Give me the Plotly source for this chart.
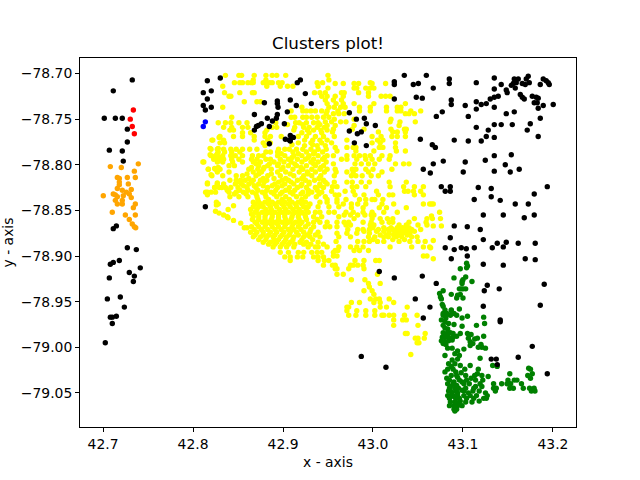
import plotly.graph_objects as go

red_x = [42.7337, 42.7303, 42.7325, 42.7348]
red_y = [-78.740, -78.750, -78.758, -78.766]
blue_x = [42.8137, 42.8114]
blue_y = [-78.753, -78.758]

orange_pts = [
(42.7392,-78.799),(42.7081,-78.802),(42.7203,-78.803),(42.7348,-78.807),(42.7159,-78.814),(42.7181,-78.815),
(42.727,-78.814),(42.7359,-78.814),(42.7181,-78.819),(42.7281,-78.821),(42.7181,-78.822),(42.7159,-78.826),
(42.7214,-78.828),(42.7314,-78.827),(42.7259,-78.830),(42.7003,-78.834),(42.7114,-78.832),(42.7137,-78.833),
(42.7225,-78.834),(42.7159,-78.835),(42.7292,-78.832),(42.7314,-78.836),(42.7137,-78.839),(42.7214,-78.839),
(42.7159,-78.843),(42.7214,-78.843),(42.7359,-78.843),(42.7337,-78.847),(42.7103,-78.852),(42.7248,-78.855),
(42.7359,-78.855),(42.7292,-78.860),(42.7325,-78.865),(42.7348,-78.868),(42.7363,-78.869),
]

black_pts = [
(42.7325,-78.707),(42.7114,-78.719),(42.7014,-78.749),(42.7137,-78.749),(42.7214,-78.749),(42.727,-78.761),
(42.727,-78.775),(42.707,-78.784),(42.7214,-78.785),(42.7225,-78.796),(42.8159,-78.708),(42.8303,-78.705),
(42.8114,-78.721),(42.8203,-78.719),(42.8159,-78.728),(42.8114,-78.735),(42.8137,-78.740),(42.8203,-78.737),
(42.8137,-78.846),(42.7148,-78.867),(42.7114,-78.870),(42.727,-78.891),(42.737,-78.893),(42.7181,-78.905),
(42.7114,-78.907),(42.7081,-78.909),(42.7414,-78.913),(42.7292,-78.918),(42.7348,-78.922),(42.707,-78.924),
(42.7337,-78.928),(42.7048,-78.947),(42.7192,-78.945),(42.7237,-78.956),(42.7148,-78.966),(42.7081,-78.967),
(42.7103,-78.967),(42.7103,-78.974),(42.7025,-78.995),
(42.9159,-78.710),(42.9193,-78.707),(42.9248,-78.722),(42.9081,-78.729),(42.8793,-78.732),(42.8937,-78.730),
(42.8937,-78.733),(42.8945,-78.737),(42.9148,-78.735),(42.9315,-78.733),(42.9048,-78.742),(42.8682,-78.745),
(42.8937,-78.745),(42.8926,-78.749),(42.8826,-78.749),(42.8882,-78.752),(42.9015,-78.755),(42.876,-78.755),
(42.8726,-78.757),(42.8704,-78.758),(42.8848,-78.758),(42.8682,-78.762),(42.9081,-78.768),(42.9026,-78.772),
(42.9070,-78.773),(42.9115,-78.770),(42.9081,-78.774),(42.8848,-78.777),
(43.0348,-78.702),(43.0593,-78.702),(43.0237,-78.709),(43.0237,-78.712),(43.0448,-78.712),(43.0504,-78.711),
(43.067,-78.716),(43.0848,-78.706),(43.0848,-78.711),(43.0481,-78.726),(43.0548,-78.727),(43.0237,-78.728),
(42.9737,-78.743),(42.9815,-78.750),(42.9904,-78.749),(42.9926,-78.755),(43.0026,-78.757),(43.077,-78.742),
(43.0704,-78.747),(42.9737,-78.763),(42.9870,-78.764),(42.9826,-78.766),(42.9793,-78.776),(42.9926,-78.779),
(43.0526,-78.772),(43.0659,-78.778),(43.0693,-78.781),(43.0781,-78.796),(43.067,-78.799),(43.0559,-78.805),
(43.0637,-78.809),(43.0759,-78.824),(43.0859,-78.824),(43.0803,-78.829),(43.0859,-78.829),
(43.1148,-78.710),(43.1348,-78.705),(43.1348,-78.717),(43.1425,-78.712),(43.157,-78.706),(43.1614,-78.706),
(43.1725,-78.703),(43.1703,-78.706),(43.1537,-78.713),(43.1559,-78.711),(43.1592,-78.710),(43.1581,-78.716),
(43.1659,-78.711),(43.1692,-78.712),(43.1737,-78.710),(43.1481,-78.718),(43.1492,-78.721),(43.1859,-78.712),
(43.1892,-78.706),(43.1925,-78.708),(43.1948,-78.710),(43.1959,-78.712),(43.087,-78.729),(43.087,-78.734),
(43.1025,-78.735),(43.1148,-78.731),(43.1148,-78.739),(43.1203,-78.734),(43.1259,-78.733),(43.1303,-78.728),
(43.1348,-78.726),(43.1392,-78.725),(43.1348,-78.737),(43.1637,-78.723),(43.1659,-78.726),(43.1681,-78.728),
(43.177,-78.725),(43.1814,-78.726),(43.1836,-78.727),(43.1792,-78.732),(43.1825,-78.732),(43.1836,-78.738),
(43.1892,-78.735),(43.2003,-78.734),(43.1481,-78.744),(43.157,-78.742),(43.1059,-78.747),(43.1859,-78.749),
(43.1348,-78.756),(43.1425,-78.756),(43.1548,-78.756),(43.1748,-78.755),(43.1148,-78.759),(43.1281,-78.762),
(43.1714,-78.762),(43.0903,-78.773),(43.1059,-78.774),(43.1203,-78.774),(43.1259,-78.769),(43.1348,-78.770),
(43.1836,-78.769),(43.1025,-78.797),(43.1248,-78.795),(43.1348,-78.790),(43.1537,-78.789),(43.1470,-78.800),
(43.1003,-78.808),(43.1348,-78.807),(43.1525,-78.808),(43.1625,-78.805),(43.117,-78.825),(43.1314,-78.826),
(43.1937,-78.824),(43.1792,-78.832),(43.1314,-78.835),(43.1125,-78.838),(43.1414,-78.839),
(43.1581,-78.843),(43.1726,-78.843),(43.1226,-78.855),(43.1448,-78.855),(43.1681,-78.858),(43.1792,-78.855),
(43.0903,-78.867),(43.1048,-78.868),(43.1192,-78.871),(43.0859,-78.880),(43.1226,-78.882),(43.1481,-78.885),
(43.1381,-78.886),(43.1448,-78.890),(43.1326,-78.891),(43.1614,-78.886),(43.1803,-78.886),(43.0803,-78.891),
(43.0903,-78.893),(43.0981,-78.891),(43.1037,-78.892),(43.1126,-78.891),(43.087,-78.903),(43.1048,-78.900),
(43.1692,-78.903),(43.1803,-78.904),(43.1226,-78.909),(43.1448,-78.910),(43.0703,-78.930),(43.127,-78.932),
(43.1237,-78.938),(43.1403,-78.936),(43.1903,-78.931),(43.1226,-78.955),(43.1859,-78.954),(43.0633,-78.956),
(43.1414,-78.970),(43.1414,-78.972),(43.177,-78.999),(43.1614,-79.011),(43.1314,-79.013),(43.137,-79.013),
(43.1381,-79.019),(43.1937,-79.029),(43.007,-78.917),(43.0237,-78.924),(43.0548,-78.922),(43.0470,-78.947),
(43.0559,-78.968),(42.987,-79.010),(43.0144,-79.022),
]

yellow_left = [
(42.828,-78.754),(42.829,-78.770),(42.821,-78.773),(42.830,-78.776),(42.819,-78.782),(42.828,-78.782),
(42.819,-78.789),(42.827,-78.788),(42.823,-78.792),(42.829,-78.792),(42.828,-78.796),(42.811,-78.797),
(42.817,-78.805),(42.824,-78.804),(42.828,-78.803),(42.820,-78.811),(42.816,-78.820),(42.827,-78.820),
(42.824,-78.825),(42.829,-78.825),(42.814,-78.830),(42.820,-78.830),(42.816,-78.833),(42.826,-78.844),
(42.828,-78.843),(42.825,-78.851),(42.829,-78.853),(42.834,-78.855),(42.838,-78.857),(42.826,-78.841),
(42.845,-78.845),(42.839,-78.849),(42.839,-78.858),(42.845,-78.861),(42.853,-78.864),(42.857,-78.869),
(42.860,-78.869),(42.867,-78.879),(43.065,-78.843),(43.067,-78.843),(43.074,-78.852),(43.065,-78.856),
(43.075,-78.859),(43.067,-78.867),(43.076,-78.867),(43.067,-78.883),(43.064,-78.891),(43.067,-78.903),
]

yellow_rows = [
(-78.702,[42.836,42.851,42.854,42.868,42.881,42.888,42.893,42.903,42.950]),
(-78.707,[42.867,42.881,42.951]),
(-78.710,[42.846,42.852,42.855,42.861,42.865,42.867,42.878,42.881,42.885,42.888,42.895,42.899,42.938,42.944,42.997]),
(-78.711,[42.958,42.967,42.979,42.984,42.999,43.014]),
(-78.714,[42.833,42.882,42.897,42.905,42.911,42.939]),
(-78.716,[42.950,42.979,42.982,42.992,42.997,43.001]),
(-78.721,[42.835,42.852,42.866,42.868,42.935,42.941,42.947,42.965,42.968,42.984,42.995]),
(-78.725,[42.840,42.842,42.943,42.949,42.958,42.967,42.995,43.009,43.014,43.019]),
(-78.729,[42.947,42.956,42.965]),
(-78.731,[42.857,42.871,42.875]),
(-78.733,[42.949,42.959,42.967,42.979,43.001,43.036]),
(-78.737,[42.833,42.921,42.951,42.957,42.964,42.969,42.985,42.997,43.015,43.027,43.031]),
(-78.741,[42.909,42.922,42.926,42.931,42.936,42.943,42.949,42.961,42.985,42.997,43.015,43.027,43.031,43.042,43.053]),
(-78.744,[42.948,42.956,42.962,42.968,43.036,43.040,43.046]),
(-78.748,[42.843,42.909,42.913,42.922,42.926,42.932,42.938,42.945,42.951]),
(-78.750,[42.957,42.979,43.020]),
(-78.753,[42.947,42.954,42.964,42.970,43.019,43.030,43.047]),
(-78.754,[42.836,42.842,42.851,42.860,42.892,42.914,42.918,42.926,42.934,42.939]),
(-78.757,[42.949,42.958,42.979,43.029]),
(-78.759,[42.834,42.843,42.855,42.861,42.888,42.893,42.913,42.923,42.929,42.938,42.946]),
(-78.761,[42.956,42.977,42.990,43.020,43.035,43.037]),
(-78.762,[42.841,42.845,42.882,42.912,42.927,42.934,42.942,42.949]),
(-78.764,[42.955,43.006,43.022,43.027,43.036]),
(-78.765,[42.855,42.864,42.880,42.921,42.929,42.943]),
(-78.769,[42.830,42.845,42.855,42.868,42.880,42.886,42.898,42.917,42.926,42.936,42.945,42.957,42.999,43.009,43.021,43.027,43.036]),
(-78.773,[42.822,42.834,42.868,42.883,42.924,42.933,42.941,42.949,42.971,43.005,43.011]),
(-78.776,[42.835,42.878,42.886,42.917,42.931,42.943,42.954,42.999,43.008,43.025]),
(-78.779,[42.880,42.924,42.938,42.947]),
(-78.781,[42.958,42.971,42.978,42.981,43.007,43.011,43.025]),
(-78.783,[42.820,42.827,42.834,42.842,42.848,42.855,42.863,42.871,42.895,42.902,42.907,42.915,42.922,42.931,42.939,42.948]),
(-78.785,[42.960,42.981,43.001,43.026,43.036]),
(-78.786,[42.828,42.835,42.843,42.852,42.881,42.886,42.894,42.911,42.926,42.935,42.944]),
(-78.790,[42.820,42.825,42.833,42.842,42.847,42.855,42.866,42.873,42.878,42.894,42.902,42.912,42.921,42.929,42.939,42.949,42.956,42.971,42.979,42.985,42.991,42.997,43.010,43.019]),
(-78.794,[42.823,42.828,42.834,42.843,42.851,42.865,42.871,42.881,42.886,42.897,42.906,42.916,42.925,42.934,42.944,42.965,42.971,42.982,42.992,42.999,43.007,43.018]),
(-78.797,[42.812,42.827,42.833,42.844,42.855,42.867,42.875,42.890,42.901,42.909,42.921,42.931,42.939,42.948]),
(-78.799,[42.956,42.980,42.987,42.995,43.002,43.025,43.034,43.040]),
(-78.801,[42.840,42.846,42.873,42.883,42.894,42.906,42.915,42.926,42.936,42.945]),
(-78.805,[42.817,42.825,42.830,42.862,42.872,42.878,42.887,42.898,42.911,42.922,42.932,42.941,42.949,42.958,42.977,42.981,42.992,43.000,43.021]),
(-78.808,[42.827,42.840,42.867,42.876,42.894,42.903,42.918,42.927,42.936,42.946,42.959,42.971,42.978,42.995,43.010]),
(-78.812,[42.821,42.833,42.848,42.855,42.870,42.883,42.897,42.912,42.923,42.932,42.942,42.957,42.976,42.981,42.988,42.998,43.006]),
(-78.817,[42.841,42.848,42.853,42.858,42.867,42.875,42.882,42.899,42.906,42.916,42.925,42.935,42.945]),
(-78.819,[42.957,42.971,42.977,42.987,42.996,43.018,43.037]),
(-78.821,[42.816,42.827,42.834,42.847,42.854,42.862,42.873,42.891,42.902,42.912,42.921,42.929,42.941,42.949]),
(-78.824,[42.955,42.960,42.977,42.982,42.992,43.019,43.034,43.046,43.056]),
(-78.825,[42.824,42.832,42.836,42.842,42.850,42.860,42.870,42.883,42.894,42.907,42.916,42.926,42.936,42.945]),
(-78.829,[42.954,42.969,42.978,43.004,43.035,43.039,43.045,43.053]),
(-78.830,[42.816,42.825,42.840,42.848,42.856,42.866,42.877,42.887,42.899,42.908,42.922,42.932,42.943]),
(-78.833,[42.958,42.962,42.980,42.990,43.006,43.018,43.022,43.046,43.056]),
(-78.835,[42.841,42.851,42.861,42.871,42.881,42.893,42.903,42.915,42.925,42.937,42.947]),
(-78.838,[42.949,42.960,42.970,42.985,42.992,43.011,42.999,43.002]),
(-78.841,[42.867,42.873,42.880,42.888,42.895,42.902,42.910,42.917,42.925,42.941,42.949,42.960]),
(-78.843,[42.967,42.976,42.983,42.992,43.010,43.023,43.056,43.063]),
(-78.846,[42.867,42.873,42.878,42.886,42.893,42.901,42.908,42.915,42.923,42.928,42.939,42.951,42.962]),
(-78.847,[42.976,42.989,43.007,43.015,43.037]),
(-78.852,[42.869,42.877,42.884,42.891,42.899,42.906,42.914,42.921,42.928,42.936,42.941,42.951,42.957,42.970,42.978,42.989,42.999,43.012,43.027]),
(-78.855,[42.968,42.975,42.983,42.991,42.998,43.001]),
(-78.857,[42.867,42.873,42.880,42.888,42.895,42.902,42.910,42.917,42.925,42.934,42.943,42.962]),
(-78.859,[42.979,42.999,43.008,43.016,43.022,43.046,43.060,43.066]),
(-78.863,[42.869,42.877,42.884,42.891,42.899,42.906,42.914,42.921,42.934,42.941,42.949,42.960,42.968,42.973,42.989,42.998,43.010,43.018,43.022,43.040,43.059]),
(-78.866,[42.970,42.975,42.997,43.001,43.029,43.037,43.050,43.060]),
(-78.868,[42.865,42.873,42.880,42.888,42.895,42.902,42.910,42.917,42.925,42.934,42.947,42.952,42.960]),
(-78.871,[42.972,42.983,42.989,42.996,43.006,43.017,43.022,43.029,43.036,43.043,43.053]),
(-78.874,[42.864,42.871,42.878,42.886,42.893,42.901,42.908,42.915,42.923,42.930,42.939]),
(-78.875,[42.960,42.971,42.982,42.996,43.018,43.028,43.033,43.041]),
(-78.879,[42.875,42.882,42.889,42.897,42.904,42.912,42.923,42.930,42.941,42.962,42.975,42.995,43.002,43.012,43.017,43.026,43.032,43.043,43.049]),
(-78.884,[42.959,42.983,42.990,42.996,43.005,43.012,43.029,43.041,43.050,43.058]),
(-78.885,[42.878,42.886,42.893,42.901,42.908,42.919,42.926,42.939]),
(-78.890,[42.889,42.897,42.904,42.912,42.928,42.936,42.939,42.949,42.962,42.975,42.982,42.989,43.019,43.043,43.056,43.063]),
(-78.894,[42.958,42.961,42.979,42.985,42.995]),
(-78.896,[42.897,42.906,42.917,42.923,42.932,42.938,42.943,42.956]),
(-78.900,[42.956,42.960,43.056,43.060]),
(-78.901,[42.902,42.908,42.916,42.922,42.934,42.939,42.945]),
(-78.905,[42.908,42.939,42.946,42.951,42.980,42.990,43.003,43.007]),
(-78.910,[42.945,42.955,42.958,42.975,42.978,42.983,42.989]),
(-78.914,[42.958,42.960,42.973,42.990]),
(-78.920,[42.960,42.967,43.005]),
(-78.926,[42.976,42.991]),
(-78.930,[42.995,43.008]),
(-78.934,[42.996]),
(-78.938,[42.990,42.999]),
(-78.942,[43.001]),
(-78.947,[42.997,43.003,43.007,43.018]),
(-78.951,[42.976,42.985,43.001,43.008,43.023]),
(-78.956,[42.971,42.973,43.008,43.015,43.038]),
(-78.960,[42.971,42.982,42.992,43.002]),
(-78.965,[42.973,42.981,42.992,43.002,43.010,43.012,43.018,43.023,43.035,43.049]),
(-78.970,[43.023,43.033,43.037]),
(-78.976,[43.023,43.050]),
(-78.985,[43.036,43.038,43.058]),
(-78.990,[43.047,43.050,43.057]),
(-78.995,[43.049,43.051]),
(-79.008,[43.042]),
]

yellow_dense_rows = [
(-78.756,[42.905,42.922,42.941]),
(-78.778,[42.910,42.933]),
(-78.788,[42.898,42.917,42.934]),
(-78.792,[42.910,42.928,42.946]),
(-78.799,[42.870,42.885,42.895,42.913,42.934]),
(-78.803,[42.865,42.879,42.900,42.920,42.942]),
(-78.810,[42.860,42.873,42.887,42.908,42.928]),
(-78.815,[42.862,42.878,42.890,42.903,42.921,42.940]),
(-78.819,[42.850,42.865,42.879,42.895,42.909,42.929,42.947]),
(-78.823,[42.856,42.868,42.878,42.888,42.899,42.920,42.941]),
(-78.828,[42.838,42.852,42.861,42.872,42.882,42.892,42.903,42.913,42.928,42.938]),
(-78.832,[42.846,42.859,42.870,42.880,42.890,42.897,42.911,42.920,42.928,42.940]),
(-78.838,[42.872,42.884,42.899,42.907,42.921]),
(-78.843,[42.869,42.876,42.884,42.891,42.899,42.906,42.914,42.921,42.930]),
(-78.849,[42.864,42.871,42.881,42.887,42.896,42.903,42.911,42.918,42.926]),
(-78.854,[42.865,42.873,42.881,42.888,42.895,42.902,42.911,42.918,42.924]),
(-78.860,[42.866,42.873,42.880,42.887,42.895,42.903,42.909,42.918,42.926,42.938]),
(-78.865,[42.871,42.881,42.887,42.894,42.903,42.911,42.919,42.928]),
(-78.871,[42.868,42.876,42.883,42.891,42.898,42.906,42.912,42.920,42.931]),
(-78.877,[42.869,42.878,42.884,42.891,42.899,42.907,42.917,42.927,42.936]),
(-78.882,[42.873,42.881,42.890,42.895,42.903,42.911,42.921,42.933]),
(-78.887,[42.884,42.891,42.899,42.906,42.913,42.923,42.931,42.945]),
(-78.869,[43.000,43.012,43.020,43.027,43.033,43.040]),
(-78.873,[42.990,43.004,43.012,43.024,43.031,43.038,43.046]),
(-78.877,[43.008,43.015,43.023,43.030,43.038]),
(-78.882,[43.000,43.022,43.035]),
]

green_pts = [
(43.104,-78.908),(43.105,-78.911),(43.104,-78.913),(43.097,-78.914),(43.090,-78.924),(43.103,-78.923),
(43.100,-78.926),(43.099,-78.928),(43.099,-78.930),(43.110,-78.928),(43.096,-78.936),(43.098,-78.936),
(43.100,-78.936),(43.103,-78.936),(43.078,-78.938),(43.074,-78.941),(43.075,-78.945),(43.076,-78.947),
(43.087,-78.942),(43.094,-78.943),(43.097,-78.942),(43.093,-78.946),(43.100,-78.946),(43.077,-78.953),
(43.078,-78.955),(43.080,-78.959),(43.087,-78.959),(43.096,-78.958),(43.078,-78.963),(43.082,-78.963),
(43.087,-78.960),(43.090,-78.963),(43.086,-78.965),(43.093,-78.965),(43.099,-78.968),(43.105,-78.966),
(43.123,-78.967),(43.076,-78.970),(43.080,-78.972),(43.090,-78.975),(43.124,-78.974),(43.115,-78.976),
(43.099,-78.977),(43.078,-78.976),(43.080,-78.979),(43.078,-78.984),(43.082,-78.985),(43.086,-78.984),
(43.089,-78.985),(43.097,-78.985),(43.105,-78.985),(43.109,-78.986),(43.123,-78.988),(43.077,-78.989),
(43.080,-78.989),(43.084,-78.989),(43.089,-78.989),(43.093,-78.988),(43.076,-78.993),(43.080,-78.994),
(43.084,-78.993),(43.088,-78.992),(43.078,-78.996),(43.106,-78.990),(43.108,-78.994),(43.113,-78.991),
(43.116,-78.990),(43.108,-78.998),(43.111,-78.996),(43.117,-79.000),(43.120,-78.997),(43.125,-79.001),
(43.121,-79.000),(43.083,-79.001),(43.088,-79.001),(43.094,-79.004),(43.101,-79.002),(43.080,-79.009),
(43.096,-79.009),(43.119,-79.012),(43.094,-79.013),(43.091,-79.018),(43.087,-79.021),(43.083,-79.024),
(43.080,-79.027),(43.089,-79.024),(43.097,-79.020),(43.108,-79.020),(43.102,-79.024),(43.117,-79.024),
(43.133,-79.020),(43.138,-79.021),(43.173,-79.023),(43.175,-79.024),(43.177,-79.029),(43.172,-79.031),
(43.175,-79.034),(43.152,-79.029),(43.128,-79.032),
(43.078,-78.965),(43.081,-78.968),(43.084,-78.974),(43.083,-78.980),(43.086,-78.991),(43.081,-78.997),
(43.091,-79.007),(43.088,-79.014),(43.084,-79.018),(43.092,-79.027),(43.098,-79.028),(43.094,-79.033),
(43.082,-79.034),(43.090,-79.038),(43.086,-79.043),(43.093,-79.042),(43.099,-79.038),(43.088,-79.050),
(43.094,-79.050),(43.099,-79.047),(43.084,-79.048),(43.090,-79.054),(43.097,-79.059),(43.106,-79.050),
(43.114,-79.043),(43.109,-79.034),(43.116,-79.029),(43.121,-79.043),(43.125,-79.050),(43.118,-79.059),
]
green_rows = [
(-79.031,[43.087,43.093,43.103,43.113,43.121]),
(-79.036,[43.085,43.096,43.104,43.114,43.122,43.150,43.157,43.160]),
(-79.040,[43.083,43.089,43.101,43.107,43.119,43.134,43.143,43.149,43.153,43.165]),
(-79.045,[43.085,43.091,43.095,43.103,43.112,43.134,43.137,43.152,43.156,43.167,43.174,43.179]),
(-79.048,[43.086,43.092,43.101,43.111,43.118,43.136,43.176,43.180]),
(-79.053,[43.083,43.087,43.094,43.101,43.108,43.115,43.127]),
(-79.056,[43.085,43.092,43.096,43.104,43.112,43.123,43.126]),
(-79.060,[43.086,43.091,43.096,43.103,43.110]),
(-79.064,[43.085,43.090,43.094,43.099]),
(-79.068,[43.090,43.093]),
(-79.070,[43.091]),
]

x_ticks = [42.7, 42.8, 42.9, 43.0, 43.1, 43.2]
y_ticks = [-78.70, -78.75, -78.80, -78.85, -78.90, -78.95, -79.00, -79.05]

def xs(points):
    return [p[0] for p in points]

def ys(points):
    return [p[1] for p in points]

def flatten(rows):
    return [(x, y) for y, row in rows for x in row]

yellow_pts = yellow_left + flatten(yellow_rows) + flatten(yellow_dense_rows)
green_all = green_pts + flatten(green_rows)

series = [
    (xs(yellow_pts), ys(yellow_pts), "yellow"),
    (xs(green_all), ys(green_all), "green"),
    (xs(orange_pts), ys(orange_pts), "orange"),
    (red_x, red_y, "red"),
    (blue_x, blue_y, "blue"),
    (xs(black_pts), ys(black_pts), "black"),
]

fig = go.Figure()
for x, y, color in series:
    fig.add_trace(go.Scatter(x=x, y=y, mode="markers",
                             marker=dict(color=color, size=5.4, line=dict(width=0)),
                             showlegend=False))

font = "DejaVu Sans"
axis = dict(showgrid=False, zeroline=False, showline=True, mirror=True, automargin=False,
            linecolor="black", linewidth=1, ticks="outside", ticklen=4,
            tickwidth=1, tickcolor="black",
            tickfont=dict(family=font, size=13.9, color="black"))
fig.update_layout(
    width=640, height=480, autosize=False,
    margin=dict(l=80, r=64, t=57.6, b=52.8, pad=0),
    plot_bgcolor="white", paper_bgcolor="white",
    title=dict(text="Clusters plot!", x=0.5125, xanchor="center", y=0.910, yanchor="middle",
               font=dict(family=font, size=16.7, color="black"), automargin=False),
    xaxis=dict(axis, range=[42.6744, 43.2256], tickvals=x_ticks, tickformat=".1f",
               title=dict(text="x - axis", font=dict(family=font, size=13.9, color="black"), standoff=6)),
    yaxis=dict(axis, range=[-79.0874, -78.683], tickvals=y_ticks, tickformat=".2f",
               title=dict(text="y - axis", font=dict(family=font, size=13.9, color="black"), standoff=16)),
)
fig.write_html("out.html", config={"displayModeBar": False}, post_script="document.body.style.margin='0';")
